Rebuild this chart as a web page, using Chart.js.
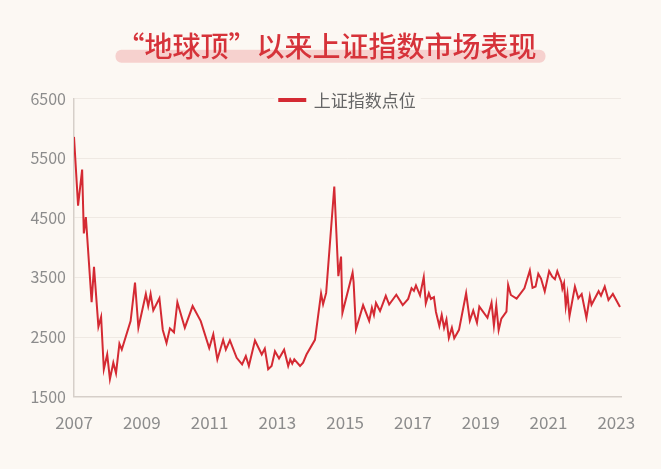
<!DOCTYPE html>
<html>
<head>
<meta charset="utf-8">
<script src="https://cdn.jsdelivr.net/npm/chart.js@4.4.0/dist/chart.umd.min.js"></script>
<style>
  html, body { margin: 0; padding: 0; background: #fcf8f3; }
  #wrap { width: 661px; height: 469px; }
</style>
</head>
<body>
<div id="wrap"><canvas id="myChart"></canvas></div>
<script>
// positions along the axis (in the axis' own year units) and index levels
const pointYears = [
  2007.00, 2007.12, 2007.24, 2007.29, 2007.35, 2007.52, 2007.59, 2007.72, 2007.80, 2007.88,
  2007.98, 2008.06, 2008.16, 2008.24, 2008.34, 2008.41, 2008.67, 2008.80, 2008.90, 2009.12,
  2009.19, 2009.26, 2009.34, 2009.52, 2009.62, 2009.73, 2009.83, 2009.95, 2010.05, 2010.27,
  2010.50, 2010.74, 2010.99, 2011.11, 2011.23, 2011.40, 2011.48, 2011.60, 2011.80, 2011.96,
  2012.07, 2012.16, 2012.34, 2012.54, 2012.63, 2012.73, 2012.83, 2012.93, 2013.05, 2013.20,
  2013.32, 2013.38, 2013.44, 2013.50, 2013.67, 2013.76, 2013.86, 2014.11, 2014.29, 2014.35,
  2014.44, 2014.68, 2014.80, 2014.88, 2014.92, 2015.22, 2015.25, 2015.32, 2015.53, 2015.71,
  2015.79, 2015.85, 2015.91, 2016.03, 2016.20, 2016.30, 2016.51, 2016.70, 2016.86, 2016.96,
  2017.03, 2017.09, 2017.21, 2017.32, 2017.38, 2017.47, 2017.53, 2017.62, 2017.68, 2017.78,
  2017.85, 2017.92, 2017.99, 2018.06, 2018.15, 2018.22, 2018.36, 2018.57, 2018.68, 2018.78,
  2018.89, 2018.96, 2019.20, 2019.32, 2019.39, 2019.46, 2019.53, 2019.61, 2019.76, 2019.81,
  2019.89, 2020.06, 2020.29, 2020.45, 2020.53, 2020.62, 2020.70, 2020.78, 2020.89, 2021.02,
  2021.11, 2021.19, 2021.26, 2021.38, 2021.41, 2021.46, 2021.51, 2021.56, 2021.62, 2021.78,
  2021.88, 2021.98, 2022.12, 2022.22, 2022.27, 2022.48, 2022.55, 2022.66, 2022.77, 2022.90,
  2023.11
];
const indexValues = [
  5857, 4704, 5308, 4237, 4512, 3084, 3677, 2673, 2837, 1959,
  2206, 1794, 2069, 1893, 2387, 2288, 2766, 3414, 2656, 3222,
  3019, 3222, 2947, 3150, 2618, 2398, 2645, 2579, 3084, 2656,
  3019, 2766, 2316, 2546, 2124, 2453, 2288, 2442, 2151, 2041,
  2179, 2014, 2442, 2206, 2305, 1959, 2014, 2261, 2140, 2288,
  2014, 2124, 2052, 2124, 2014, 2069, 2206, 2453, 3230, 3050,
  3240, 5025, 3520, 3850, 2905, 3580, 3420, 2630, 3035, 2770,
  2990, 2870, 3070, 2935, 3190, 3045, 3210, 3035, 3139, 3320,
  3275, 3365, 3200, 3505, 3065, 3235, 3139, 3170, 2920, 2685,
  2870, 2655, 2795, 2485, 2655, 2478, 2620, 3235, 2775, 2945,
  2740, 3010, 2822, 3075, 2690, 3030, 2616, 2809, 2925, 3373,
  3205, 3145, 3318, 3615, 3324, 3348, 3560, 3480, 3264, 3605,
  3513, 3469, 3605, 3420, 3310, 3403, 3015, 3222, 2850, 3346,
  3150, 3222, 2822, 3183, 3040, 3268, 3194, 3346, 3120, 3222,
  3005
];
const tickYears = [2007, 2009, 2011, 2013, 2015, 2017, 2019, 2021, 2023];
const tickValues = [1500, 2500, 3500, 4500, 5500, 6500];
const seriesName = "上证指数点位";
const chartTitle = "“地球顶”以来上证指数市场表现";

const bgColor = "#fcf8f3";
const lineColor = "#d42a33";
const titleSize = 28;
const titleWeight = "500";
const titlePadTop = 30;
const legendSize = 17;
const legendPad = 8;
const legendShift = 20;

Chart.defaults.font.family = "'Noto Sans CJK SC', 'Noto Sans', sans-serif";

// page background + pink marker stroke under the title
const titleBand = {
  id: "titleBand",
  beforeDraw(chart) {
    const ctx = chart.ctx;
    ctx.save();
    ctx.fillStyle = bgColor;
    ctx.fillRect(0, 0, chart.width, chart.height);
    const t = chart.titleBlock;
    ctx.font = titleWeight + " " + titleSize + "px 'Noto Sans CJK SC'";
    const tw = ctx.measureText(chartTitle).width;
    const cx = (t.left + t.right) / 2;
    const cy = t.top + titlePadTop + titleSize * 1.2 / 2;
    ctx.fillStyle = "#f6d1ce";
    ctx.beginPath();
    ctx.roundRect(cx - tw / 2 - 1, cy + 3, tw + 10, 13, 6);
    ctx.fill();
    ctx.restore();
  }
};

// title centred on the page; legend moved onto the top gridline with a gap behind it
const legendGap = {
  id: "legendGap",
  afterLayout(chart) {
    chart.titleBlock.left = 0;
    chart.titleBlock.right = chart.width - 8;
    chart.legend.top += legendShift;
    chart.legend.bottom += legendShift;
  },
  beforeDatasetsDraw(chart) {
    const lg = chart.legend;
    const ctx = chart.ctx;
    ctx.save();
    ctx.font = legendSize + "px 'Noto Sans CJK SC'";
    const itemW = 26 + legendSize / 2 + ctx.measureText(seriesName).width;
    const x0 = (lg.left + lg.right - itemW) / 2;
    const yc = lg.top + legendPad + legendSize / 2;
    ctx.fillStyle = bgColor;
    ctx.fillRect(x0 - 5, yc - 9, itemW + 10, 18);
    ctx.restore();
    lg.draw();
  }
};

const ctx = document.getElementById("myChart").getContext("2d");
const myChart = new Chart(ctx, {
  type: "line",
  data: {
    datasets: [{
      label: seriesName,
      data: pointYears.map((x, i) => ({ x: x, y: indexValues[i] })),
      borderColor: lineColor,
      backgroundColor: lineColor,
      borderWidth: 2,
      pointRadius: 0,
      tension: 0
    }]
  },
  options: {
    responsive: true,
    maintainAspectRatio: false,
    animation: false,
    layout: { padding: { left: 0, right: 40, top: 0, bottom: 20 } },
    plugins: {
      title: {
        display: true,
        text: chartTitle,
        color: "#d6333a",
        font: { size: titleSize, weight: titleWeight, lineHeight: 1.2 },
        padding: { top: titlePadTop, bottom: 0 }
      },
      legend: {
        position: "top",
        fullSize: false,
        labels: {
          boxWidth: 26,
          boxHeight: 2,
          padding: legendPad,
          color: "#666",
          font: { size: legendSize }
        }
      },
      tooltip: { enabled: false }
    },
    scales: {
      x: {
        type: "linear",
        min: 2007,
        max: 2023.14,
        afterBuildTicks: (s) => { s.ticks = tickYears.map(v => ({ value: v })); },
        afterFit: (s) => { s.paddingLeft = 0; s.paddingRight = 0; },
        grid: { display: false, drawTicks: false },
        border: { display: true, color: "#d6cfc9", width: 1.5 },
        ticks: {
          color: "#8c8c8c",
          font: { size: 17 },
          padding: 16,
          maxRotation: 0,
          autoSkip: false,
          callback: (v) => String(v)
        }
      },
      y: {
        min: 1500,
        max: 6500,
        afterBuildTicks: (s) => { s.ticks = tickValues.map(v => ({ value: v })); },
        afterFit: (s) => { s.width = 74; },
        grid: { color: "#efe9e3", lineWidth: 1, drawTicks: false },
        border: { display: true, color: "#d6cfc9", width: 1.5 },
        ticks: {
          color: "#8c8c8c",
          font: { size: 16 },
          padding: 8,
          callback: (v) => String(v)
        }
      }
    }
  },
  plugins: [titleBand, legendGap]
});
</script>
</body>
</html>
